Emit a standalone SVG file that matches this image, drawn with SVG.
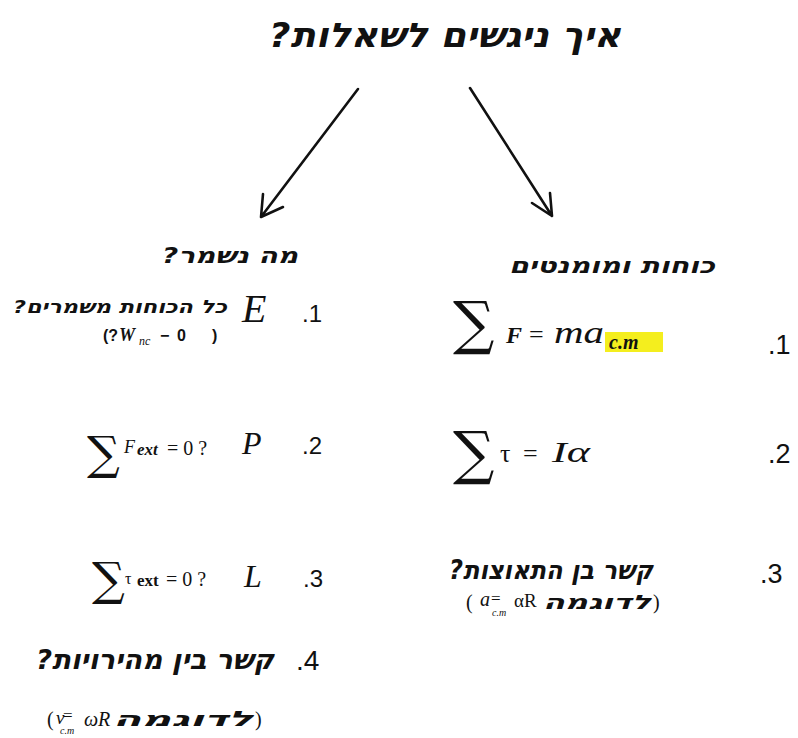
<svg xmlns="http://www.w3.org/2000/svg" width="798" height="738" viewBox="0 0 798 738">
<defs>
<style>
.heb{font-family:"DejaVu Sans","Liberation Sans",sans-serif;font-weight:bold;font-style:oblique;fill:#111;}
.m{font-family:"Liberation Serif","DejaVu Serif",serif;font-style:italic;fill:#111;}
.mu{font-family:"Liberation Serif","DejaVu Serif",serif;fill:#111;}
.num{font-family:"Liberation Sans",Arial,sans-serif;fill:#111;font-size:24px;}
.sig{font-family:"DejaVu Serif","Liberation Serif",serif;fill:#111;}
.arr{stroke:#111;stroke-width:2.6;fill:none;stroke-linecap:round;stroke-linejoin:round;}
</style>
</defs>
<rect width="798" height="738" fill="#fff"/>
<g id="connectors">
<path class="arr" d="M358 89 L261 217 M263 194 L261 217 L283 207"/>
<path class="arr" d="M470 88 L552 216 M550 193 L552 216 L532 203"/>
</g>
<g id="title">
<text class="heb" x="445" y="47" font-size="34" direction="rtl" text-anchor="middle" textLength="352" lengthAdjust="spacingAndGlyphs">איך ניגשים לשאלות?</text>
</g>
<g id="left-heading">
<text class="heb" x="230" y="263" font-size="22" direction="rtl" text-anchor="middle" textLength="136" lengthAdjust="spacingAndGlyphs">מה נשמר?</text>
</g>
<g id="right-heading">
<text class="heb" x="612" y="273" font-size="22" direction="rtl" text-anchor="middle" textLength="206" lengthAdjust="spacingAndGlyphs">כוחות ומומנטים</text>
</g>
<g id="left-1">
<text class="num" x="302" y="322">.1</text>
<text class="m" x="242" y="322" font-size="40">E</text>
<text class="heb" x="120" y="313" font-size="18" direction="rtl" text-anchor="middle" textLength="214" lengthAdjust="spacingAndGlyphs">כל הכוחות משמרים?</text>
<text x="103" y="341" font-family="Liberation Sans,Arial,sans-serif" font-weight="bold" font-size="16" fill="#111">(?</text>
<text class="m" x="119" y="341" font-size="18" font-weight="bold">W</text>
<text class="m" x="139" y="345" font-size="12">nc</text>
<text x="160" y="341" font-family="Liberation Sans,Arial,sans-serif" font-weight="bold" font-size="16" fill="#111">−</text>
<text x="177" y="341" font-family="Liberation Sans,Arial,sans-serif" font-weight="bold" font-size="16" fill="#111">0</text>
<text x="212" y="341" font-family="Liberation Sans,Arial,sans-serif" font-weight="bold" font-size="16" fill="#111">)</text>
</g>
<g id="left-2">
<text class="sig" x="87" y="469" font-size="46">∑</text>
<text class="m" x="124" y="453" font-size="18">F</text>
<text class="m" x="137" y="455" font-size="17" font-weight="bold">ext</text>
<text class="mu" x="167" y="455" font-size="20">= 0 ?</text>
<text class="m" x="242" y="454" font-size="32">P</text>
<text class="num" x="302" y="454">.2</text>
</g>
<g id="left-3">
<text class="sig" x="92" y="595" font-size="46">∑</text>
<text class="mu" x="125" y="584" font-size="16">τ</text>
<text class="mu" x="137" y="586" font-size="17" font-weight="bold">ext</text>
<text class="mu" x="166" y="586" font-size="20">= 0 ?</text>
<text class="m" x="244" y="587" font-size="32">L</text>
<text class="num" x="303" y="587">.3</text>
</g>
<g id="left-4">
<text class="num" x="296" y="670" style="font-size:28px">.4</text>
<text class="heb" x="155" y="669" font-size="27" direction="rtl" text-anchor="middle" textLength="238" lengthAdjust="spacingAndGlyphs">קשר בין מהירויות?</text>
<text class="mu" x="47" y="726" font-size="20">(</text>
<text class="m" x="56" y="724" font-size="19">v</text>
<text class="mu" x="63" y="721" font-size="17">=</text>
<text class="m" x="60" y="734" font-size="10">c.m</text>
<text class="m" x="84" y="726" font-size="20">ωR</text>
<text class="heb" x="183" y="726" font-size="21" direction="rtl" text-anchor="middle" textLength="140" lengthAdjust="spacingAndGlyphs">לדוגמה</text>
<text class="mu" x="255" y="726" font-size="20">)</text>
</g>
<g id="right-1">
<text class="sig" x="453" y="343" font-size="58">∑</text>
<text class="m" x="506" y="343" font-size="24" font-weight="bold">F</text>
<text class="mu" x="529" y="343" font-size="26">=</text>
<text class="m" x="554" y="343" font-size="32" textLength="50" lengthAdjust="spacingAndGlyphs">ma</text>
<rect x="605" y="332" width="58" height="20" fill="#f4ee1e"/>
<text class="m" x="609" y="349" font-size="20" font-weight="bold">c.m</text>
<text class="num" x="768" y="354" style="font-size:27px">.1</text>
</g>
<g id="right-2">
<text class="sig" x="453" y="473" font-size="58">∑</text>
<text class="mu" x="500" y="462" font-size="26">τ</text>
<text class="mu" x="523" y="462" font-size="26" fill="#555">=</text>
<text class="m" x="552" y="462" font-size="30" textLength="38" lengthAdjust="spacingAndGlyphs">Iα</text>
<text class="num" x="768" y="463" style="font-size:27px">.2</text>
</g>
<g id="right-3">
<text class="num" x="760" y="583" style="font-size:27px">.3</text>
<text class="heb" x="551" y="579" font-size="26" direction="rtl" text-anchor="middle" textLength="204" lengthAdjust="spacingAndGlyphs">קשר בן התאוצות?</text>
<text class="mu" x="466" y="609" font-size="20">(</text>
<text class="m" x="480" y="606" font-size="20">a</text>
<text class="mu" x="491" y="604" font-size="17">=</text>
<text class="m" x="492" y="616" font-size="10">c.m</text>
<text class="mu" x="514" y="607" font-size="19">αR</text>
<text class="heb" x="597" y="609" font-size="20" direction="rtl" text-anchor="middle" textLength="108" lengthAdjust="spacingAndGlyphs">לדוגמה</text>
<text class="mu" x="653" y="609" font-size="20">)</text>
</g>
</svg>
